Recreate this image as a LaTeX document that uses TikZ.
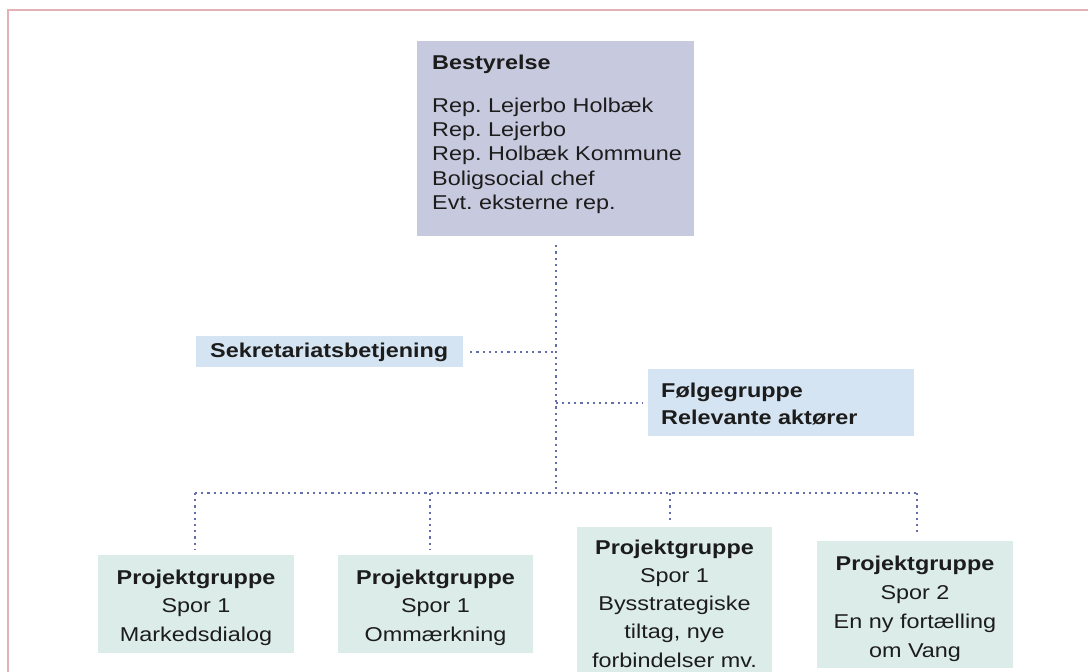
\documentclass[tikz,border=0pt]{standalone}
\usepackage{fontspec}
\setmainfont{Liberation Sans}[FakeStretch=1.17]
\definecolor{framecol}{RGB}{228,178,180}
\definecolor{bestfill}{RGB}{199,202,222}
\definecolor{bluefill}{RGB}{213,228,242}
\definecolor{tealfill}{RGB}{220,236,233}
\definecolor{dotline}{RGB}{100,110,170}
\definecolor{ink}{RGB}{28,28,28}
\frenchspacing
\begin{document}
\begin{tikzpicture}[x=1pt,y=-1pt,
  box/.style={rectangle,inner sep=0pt,draw=none},
  txt/.style={inner sep=0pt,text=ink},
  conn/.style={draw=dotline,line width=2pt,dash pattern=on 2.2pt off 4pt}]
\useasboundingbox (0,0) rectangle (1088,672);
\draw[framecol,line width=2pt] (8,674) -- (8,10) -- (1090,10);

% boxes
\node[box,fill=bestfill,minimum width=277pt,minimum height=195pt] (best) at (555.5,138.5) {};
\node[box,fill=bluefill,minimum width=267pt,minimum height=31pt] (sek) at (329.5,351.5) {};
\node[box,fill=bluefill,minimum width=266pt,minimum height=67pt] (folge) at (781,402.5) {};
\node[box,fill=tealfill,minimum width=196pt,minimum height=98pt] (b1) at (196,604) {};
\node[box,fill=tealfill,minimum width=195pt,minimum height=98pt] (b2) at (435.5,604) {};
\node[box,fill=tealfill,minimum width=195pt,minimum height=153pt] (b3) at (674.5,603.5) {};
\node[box,fill=tealfill,minimum width=196pt,minimum height=127pt] (b4) at (915,604.5) {};

% texts
\node[txt,anchor=base west] (bestT) at (432,69.3) {\fontsize{20}{24.1}\selectfont\begin{tabular}[t]{@{}l@{}}\textbf{Bestyrelse}\\[19.3pt] Rep. Lejerbo Holbæk\\ Rep. Lejerbo\\ Rep. Holbæk Kommune\\ Boligsocial chef\\ Evt. eksterne rep.\end{tabular}};
\node[txt,anchor=base west] (sekT) at (210,357) {\fontsize{20}{24}\selectfont\textbf{Sekretariatsbetjening}};
\node[txt,anchor=base west] (folgeT) at (661,397) {\fontsize{20}{27}\selectfont\begin{tabular}[t]{@{}l@{}}\textbf{Følgegruppe}\\ \textbf{Relevante aktører}\end{tabular}};
\node[txt,anchor=base] (b1T) at (196,584) {\fontsize{20}{28.7}\selectfont\begin{tabular}[t]{@{}c@{}}\textbf{Projektgruppe}\\ Spor 1\\ Markedsdialog\end{tabular}};
\node[txt,anchor=base] (b2T) at (435.5,584) {\fontsize{20}{28.7}\selectfont\begin{tabular}[t]{@{}c@{}}\textbf{Projektgruppe}\\ Spor 1\\ Ommærkning\end{tabular}};
\node[txt,anchor=base] (b3T) at (674.5,554) {\fontsize{20}{28.3}\selectfont\begin{tabular}[t]{@{}c@{}}\textbf{Projektgruppe}\\ Spor 1\\ Bysstrategiske\\ tiltag, nye\\ forbindelser mv.\end{tabular}};
\node[txt,anchor=base] (b4T) at (915,570) {\fontsize{20}{29}\selectfont\begin{tabular}[t]{@{}c@{}}\textbf{Projektgruppe}\\ Spor 2\\ En ny fortælling\\ om Vang\end{tabular}};

% connectors
\coordinate (hub) at (555.5,493);
\coordinate (d1) at ([xshift=-1pt]b1.north);
\coordinate (d2) at ([xshift=-6pt]b2.north);
\coordinate (d3) at ([xshift=-5pt]b3.north);
\coordinate (d4) at ([xshift=2pt]b4.north);
\draw[conn] ([yshift=-9pt]best.south) -- (hub);
\draw[conn] ([xshift=7pt]sek.east) -- (sek.east -| hub);
\draw[conn] (folge.west -| hub) -- ([xshift=-5pt]folge.west);
\draw[conn] (d1 |- hub) -- (d4 |- hub);
\draw[conn] (d1 |- hub) -- ([yshift=5pt]d1);
\draw[conn] (d2 |- hub) -- ([yshift=5pt]d2);
\draw[conn] (d3 |- hub) -- ([yshift=5pt]d3);
\draw[conn] (d4 |- hub) -- ([yshift=8pt]d4);
\end{tikzpicture}
\end{document}
